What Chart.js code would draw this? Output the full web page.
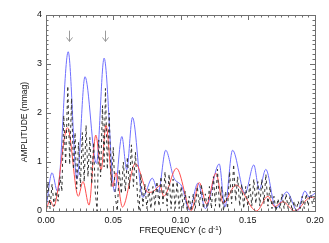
<!DOCTYPE html>
<html><head><meta charset="utf-8">
<script src="https://cdn.jsdelivr.net/npm/chart.js@4/dist/chart.umd.min.js"></script>
<style>html,body{margin:0;padding:0;background:#fff;}canvas{display:block;}</style>
</head><body>
<canvas id="c" width="329" height="243"></canvas>
<script>
const xTicks = [0.00, 0.05, 0.10, 0.15, 0.20];
const yTicks = [0, 1, 2, 3, 4];
const arrowFreqs = [0.0173, 0.0438];

const blueFreq = [0.000,0.0045,0.0085,0.0165,0.0230,0.0290,0.0375,0.0432,0.0510,0.0564,0.0600,0.0643,0.0720,0.0790,0.0835,0.0890,0.0950,0.1010,0.1065,0.1130,0.1185,0.1288,0.1330,0.1387,0.1480,0.1545,0.1585,0.1634,0.1710,0.1790,0.1870,0.1925,0.1955,0.2000];
const blueAmp  = [0.05,0.78,0.40,3.25,0.65,2.74,0.97,3.12,0.39,1.52,0.84,1.91,0.28,0.67,0.39,1.24,0.68,0.50,0.02,0.57,0.05,0.96,0.08,1.24,0.36,0.94,0.43,0.85,0.05,0.39,0.00,0.41,0.29,0.36];

const redFreq = [0.000,0.0030,0.0057,0.0160,0.0240,0.0275,0.0320,0.0370,0.0410,0.0446,0.0497,0.0520,0.0568,0.0665,0.0760,0.0800,0.0848,0.0875,0.0970,0.1080,0.1140,0.1194,0.1263,0.1318,0.1412,0.1565,0.1650,0.1700,0.1760,0.1850,0.1950,0.2000];
const redAmp  = [0.00,0.22,0.09,1.70,0.30,0.60,0.12,1.55,0.84,1.75,0.50,0.78,0.08,0.97,0.38,0.40,0.52,0.30,0.87,0.01,0.58,0.14,0.77,0.16,0.53,0.00,0.30,0.09,0.19,0.00,0.26,0.29];

const blackFreq = [0.0000,0.0015,0.0030,0.0045,0.0060,0.0075,0.0090,0.0105,0.0118,0.0132,0.0146,0.0162,0.0176,0.0190,0.0204,0.0216,0.0228,0.0242,0.0256,0.0270,0.0284,0.0298,0.0312,0.0326,0.0340,0.0354,0.0366,0.0380,0.0392,0.0406,0.0420,0.0432,0.0442,0.0456,0.0470,0.0485,0.0500,0.0515,0.0530,0.0545,0.0560,0.0575,0.0590,0.0605,0.0620,0.0635,0.0650,0.0665,0.0680,0.0692,0.0705,0.0720,0.0735,0.0750,0.0765,0.0780,0.0795,0.0810,0.0825,0.0840,0.0855,0.0870,0.0885,0.0900,0.0915,0.0930,0.0945,0.0960,0.0975,0.0990,0.1005,0.1020,0.1035,0.1050,0.1065,0.1080,0.1095,0.1110,0.1125,0.1140,0.1155,0.1170,0.1185,0.1200,0.1215,0.1230,0.1245,0.1260,0.1275,0.1290,0.1305,0.1320,0.1335,0.1350,0.1365,0.1380,0.1395,0.1410,0.1425,0.1440,0.1455,0.1470,0.1485,0.1500,0.1515,0.1530,0.1545,0.1560,0.1575,0.1590,0.1605,0.1620,0.1635,0.1650,0.1665,0.1680,0.1695,0.1710,0.1725,0.1740,0.1755,0.1770,0.1785,0.1800,0.1815,0.1830,0.1845,0.1860,0.1875,0.1890,0.1905,0.1920,0.1935,0.1950,0.1965,0.1980,0.2000];
const blackAmp  = [0.00,0.60,0.05,0.55,0.10,0.40,0.20,0.70,0.40,1.95,0.95,2.55,0.95,2.30,0.85,1.60,0.45,1.40,0.50,1.60,0.60,1.75,0.70,1.50,0.55,1.40,0.40,0.00,1.45,0.70,2.15,0.90,2.50,0.85,2.00,0.50,1.30,0.30,0.00,0.85,0.35,1.00,0.40,1.10,0.45,1.35,0.50,1.20,0.30,0.00,0.75,0.10,0.55,0.05,0.45,0.05,0.50,0.10,0.60,0.10,0.70,0.15,0.80,0.10,0.75,0.05,0.65,0.05,0.60,0.05,0.50,0.05,0.40,0.00,0.30,0.00,0.35,0.05,0.50,0.10,0.55,0.05,0.35,0.00,0.50,0.05,0.70,0.10,0.85,0.05,0.50,0.00,0.40,0.05,0.80,0.15,0.95,0.20,0.70,0.10,0.55,0.05,0.50,0.10,0.55,0.10,0.65,0.15,0.60,0.10,0.65,0.15,0.75,0.10,0.50,0.05,0.30,0.00,0.25,0.05,0.35,0.05,0.35,0.05,0.30,0.00,0.20,0.00,0.20,0.05,0.30,0.05,0.35,0.10,0.40,0.15,0.30];

const pts = (xs, ys) => xs.map((x, i) => ({x: x, y: ys[i]}));
const FONT = '"Liberation Sans", Arial, Helvetica, sans-serif';

const frame = {
  id: 'frame',
  afterDraw(chart) {
    const {ctx, chartArea: a, scales: {x, y}} = chart;
    ctx.save();
    ctx.strokeStyle = '#6f6f6f';
    ctx.lineWidth = 1;
    ctx.strokeRect(Math.round(a.left) + 0.5, Math.round(a.top) + 0.5, Math.round(a.right - a.left), Math.round(a.bottom - a.top));
    ctx.beginPath();
    for (let i = 0; i <= 40; i++) {
      const v = x.min + (x.max - x.min) * i / 40;
      const px = Math.round(x.getPixelForValue(v)) + 0.5;
      const len = (i % 10 === 0) ? 5 : 2.5;
      ctx.moveTo(px, a.bottom); ctx.lineTo(px, a.bottom - len);
      ctx.moveTo(px, a.top); ctx.lineTo(px, a.top + len);
    }
    for (let i = 0; i <= 40; i++) {
      const v = y.min + (y.max - y.min) * i / 40;
      const py = Math.round(y.getPixelForValue(v)) + 0.5;
      const len = (i % 10 === 0) ? 5 : 2.5;
      ctx.moveTo(a.left, py); ctx.lineTo(a.left + len, py);
      ctx.moveTo(a.right, py); ctx.lineTo(a.right - len, py);
    }
    ctx.stroke();
    ctx.strokeStyle = '#9a9a9a';
    ctx.lineWidth = 1;
    arrowFreqs.forEach(f => {
      const px = Math.round(x.getPixelForValue(f)) + 0.5;
      const y0 = y.getPixelForValue(3.68), y1 = y.getPixelForValue(3.46);
      ctx.beginPath();
      ctx.moveTo(px, y0); ctx.lineTo(px, y1);
      ctx.moveTo(px - 3, y1 - 4); ctx.lineTo(px, y1); ctx.lineTo(px + 3, y1 - 4);
      ctx.stroke();
    });
    ctx.fillStyle = '#111';
    ctx.font = '9px ' + FONT;
    ctx.textBaseline = 'middle';
    const tx = (a.left + a.right) / 2;
    const base = 'FREQUENCY (c d';
    const w1 = ctx.measureText(base).width;
    ctx.font = '6px ' + FONT;
    const w2 = ctx.measureText('-1').width;
    ctx.font = '9px ' + FONT;
    const w3 = ctx.measureText(')').width;
    let sx = tx - (w1 + w2 + w3) / 2;
    ctx.textAlign = 'left';
    ctx.fillText(base, sx, 231);
    ctx.font = '6px ' + FONT;
    ctx.fillText('-1', sx + w1, 228);
    ctx.font = '9px ' + FONT;
    ctx.fillText(')', sx + w1 + w2, 231);
    ctx.font = '8.5px ' + FONT;
    ctx.translate(25, 122);
    ctx.rotate(-Math.PI / 2);
    ctx.textAlign = 'center';
    ctx.fillText('AMPLITUDE (mmag)', 0, 0);
    ctx.restore();
  }
};

new Chart(document.getElementById('c'), {
  type: 'line',
  data: {
    datasets: [
      {data: pts(blackFreq, blackAmp), borderColor: '#333', borderWidth: 1, borderDash: [3, 3], pointRadius: 0, tension: 0, fill: false},
      {data: pts(redFreq, redAmp), borderColor: '#ff4d4d', borderWidth: 1, pointRadius: 0, cubicInterpolationMode: 'monotone', fill: false},
      {data: pts(blueFreq, blueAmp), borderColor: '#6f6fff', borderWidth: 1, pointRadius: 0, cubicInterpolationMode: 'monotone', fill: false}
    ]
  },
  options: {
    responsive: false,
    animation: false,
    devicePixelRatio: 1,
    layout: {padding: {top: 15, right: 14, left: 0, bottom: 0}},
    plugins: {legend: {display: false}, tooltip: {enabled: false}},
    scales: {
      x: {
        type: 'linear', min: 0, max: 0.2,
        afterBuildTicks: s => { s.ticks = xTicks.map(v => ({value: v})); },
        afterFit: s => { s.height = 32; },
        grid: {display: false, drawTicks: false},
        border: {display: false},
        ticks: {padding: 4, color: '#111', font: {family: FONT, size: 9}, callback: v => v.toFixed(2), maxRotation: 0, autoSkip: false}
      },
      y: {
        type: 'linear', min: 0, max: 4,
        afterBuildTicks: s => { s.ticks = yTicks.map(v => ({value: v})); },
        afterFit: s => { s.width = 46; },
        grid: {display: false, drawTicks: false},
        border: {display: false},
        ticks: {padding: 4, color: '#111', font: {family: FONT, size: 9}, callback: v => String(v)}
      }
    }
  },
  plugins: [frame]
});
</script>
</body></html>
